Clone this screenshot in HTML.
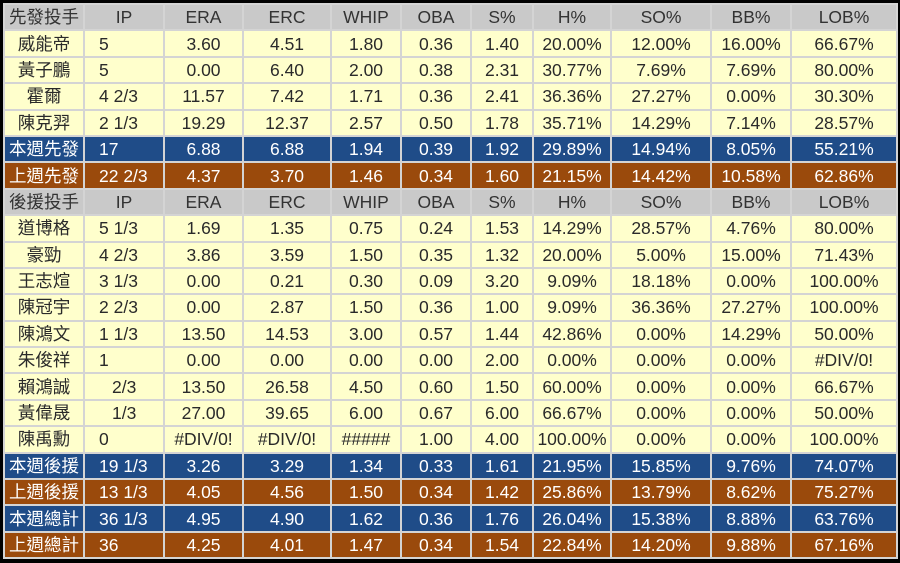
<!DOCTYPE html>
<html><head><meta charset="utf-8"><style>
html,body{margin:0;padding:0;background:#000;width:900px;height:563px;overflow:hidden}
table{position:absolute;left:3px;top:3px;border-collapse:collapse;table-layout:fixed;width:893px;font-family:"Liberation Sans","Noto Sans CJK TC",sans-serif;font-size:17.5px;color:#2a2a2a}
td{border:2px solid #d4d4d4;height:24.4px;padding:0;text-align:center;white-space:nowrap;background:#ffffcc;line-height:22px}
tr.h td{background:#c9c9c9;color:#333}
tr.b td{background:#1f4c88;color:#fff}
tr.o td{background:#9a4a0c;color:#fff}
td.ip{text-align:left;padding-left:14px}
td.ip2{text-align:left;padding-left:27px}
</style></head><body>
<table>
<colgroup><col style="width:80px"><col style="width:80px"><col style="width:79px"><col style="width:88px"><col style="width:70px"><col style="width:70px"><col style="width:62px"><col style="width:78px"><col style="width:100px"><col style="width:80px"><col style="width:106px"></colgroup>
<tr class="h"><td>先發投手</td><td>IP</td><td>ERA</td><td>ERC</td><td>WHIP</td><td>OBA</td><td>S%</td><td>H%</td><td>SO%</td><td>BB%</td><td>LOB%</td></tr>
<tr><td>威能帝</td><td class="ip">5</td><td>3.60</td><td>4.51</td><td>1.80</td><td>0.36</td><td>1.40</td><td>20.00%</td><td>12.00%</td><td>16.00%</td><td>66.67%</td></tr>
<tr><td>黃子鵬</td><td class="ip">5</td><td>0.00</td><td>6.40</td><td>2.00</td><td>0.38</td><td>2.31</td><td>30.77%</td><td>7.69%</td><td>7.69%</td><td>80.00%</td></tr>
<tr><td>霍爾</td><td class="ip">4 2/3</td><td>11.57</td><td>7.42</td><td>1.71</td><td>0.36</td><td>2.41</td><td>36.36%</td><td>27.27%</td><td>0.00%</td><td>30.30%</td></tr>
<tr><td>陳克羿</td><td class="ip">2 1/3</td><td>19.29</td><td>12.37</td><td>2.57</td><td>0.50</td><td>1.78</td><td>35.71%</td><td>14.29%</td><td>7.14%</td><td>28.57%</td></tr>
<tr class="b"><td>本週先發</td><td class="ip">17</td><td>6.88</td><td>6.88</td><td>1.94</td><td>0.39</td><td>1.92</td><td>29.89%</td><td>14.94%</td><td>8.05%</td><td>55.21%</td></tr>
<tr class="o"><td>上週先發</td><td class="ip">22 2/3</td><td>4.37</td><td>3.70</td><td>1.46</td><td>0.34</td><td>1.60</td><td>21.15%</td><td>14.42%</td><td>10.58%</td><td>62.86%</td></tr>
<tr class="h"><td>後援投手</td><td>IP</td><td>ERA</td><td>ERC</td><td>WHIP</td><td>OBA</td><td>S%</td><td>H%</td><td>SO%</td><td>BB%</td><td>LOB%</td></tr>
<tr><td>道博格</td><td class="ip">5 1/3</td><td>1.69</td><td>1.35</td><td>0.75</td><td>0.24</td><td>1.53</td><td>14.29%</td><td>28.57%</td><td>4.76%</td><td>80.00%</td></tr>
<tr><td>豪勁</td><td class="ip">4 2/3</td><td>3.86</td><td>3.59</td><td>1.50</td><td>0.35</td><td>1.32</td><td>20.00%</td><td>5.00%</td><td>15.00%</td><td>71.43%</td></tr>
<tr><td>王志煊</td><td class="ip">3 1/3</td><td>0.00</td><td>0.21</td><td>0.30</td><td>0.09</td><td>3.20</td><td>9.09%</td><td>18.18%</td><td>0.00%</td><td>100.00%</td></tr>
<tr><td>陳冠宇</td><td class="ip">2 2/3</td><td>0.00</td><td>2.87</td><td>1.50</td><td>0.36</td><td>1.00</td><td>9.09%</td><td>36.36%</td><td>27.27%</td><td>100.00%</td></tr>
<tr><td>陳鴻文</td><td class="ip">1 1/3</td><td>13.50</td><td>14.53</td><td>3.00</td><td>0.57</td><td>1.44</td><td>42.86%</td><td>0.00%</td><td>14.29%</td><td>50.00%</td></tr>
<tr><td>朱俊祥</td><td class="ip">1</td><td>0.00</td><td>0.00</td><td>0.00</td><td>0.00</td><td>2.00</td><td>0.00%</td><td>0.00%</td><td>0.00%</td><td>#DIV/0!</td></tr>
<tr><td>賴鴻誠</td><td class="ip2">2/3</td><td>13.50</td><td>26.58</td><td>4.50</td><td>0.60</td><td>1.50</td><td>60.00%</td><td>0.00%</td><td>0.00%</td><td>66.67%</td></tr>
<tr><td>黃偉晟</td><td class="ip2">1/3</td><td>27.00</td><td>39.65</td><td>6.00</td><td>0.67</td><td>6.00</td><td>66.67%</td><td>0.00%</td><td>0.00%</td><td>50.00%</td></tr>
<tr><td>陳禹勳</td><td class="ip">0</td><td>#DIV/0!</td><td>#DIV/0!</td><td>#####</td><td>1.00</td><td>4.00</td><td>100.00%</td><td>0.00%</td><td>0.00%</td><td>100.00%</td></tr>
<tr class="b"><td>本週後援</td><td class="ip">19 1/3</td><td>3.26</td><td>3.29</td><td>1.34</td><td>0.33</td><td>1.61</td><td>21.95%</td><td>15.85%</td><td>9.76%</td><td>74.07%</td></tr>
<tr class="o"><td>上週後援</td><td class="ip">13 1/3</td><td>4.05</td><td>4.56</td><td>1.50</td><td>0.34</td><td>1.42</td><td>25.86%</td><td>13.79%</td><td>8.62%</td><td>75.27%</td></tr>
<tr class="b"><td>本週總計</td><td class="ip">36 1/3</td><td>4.95</td><td>4.90</td><td>1.62</td><td>0.36</td><td>1.76</td><td>26.04%</td><td>15.38%</td><td>8.88%</td><td>63.76%</td></tr>
<tr class="o"><td>上週總計</td><td class="ip">36</td><td>4.25</td><td>4.01</td><td>1.47</td><td>0.34</td><td>1.54</td><td>22.84%</td><td>14.20%</td><td>9.88%</td><td>67.16%</td></tr>
</table>
</body></html>
